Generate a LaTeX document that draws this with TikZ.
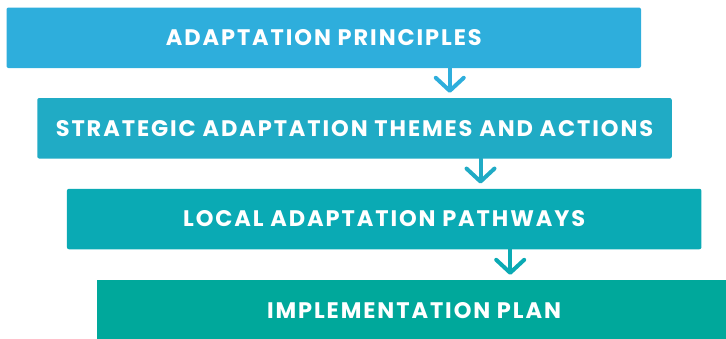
\documentclass[tikz,border=0pt]{standalone}
\usepackage{fontspec}
\setmainfont{Poppins}[LetterSpace=8.5]
\usetikzlibrary{arrows.meta}
\definecolor{stepone}{RGB}{46,174,220}
\definecolor{steptwo}{RGB}{32,171,197}
\definecolor{stepthree}{RGB}{10,170,180}
\definecolor{stepfour}{RGB}{0,168,155}

\begin{document}
\begin{tikzpicture}[x=1pt,y=-1pt,
    box/.style={fill=#1,rounded corners=2pt,minimum width=634.5pt,minimum height=60.5pt,
      inner sep=0pt,text=white,font=\bfseries\fontsize{22.5}{26}\selectfont},
    chev/.style={draw=#1,line width=4pt,line cap=round,
      -{Straight Barb[length=13pt,width=28pt,round]},shorten >=5pt}]
  \clip(0,0) rectangle (726,338);
  % the four steps
  \node[box=stepone] (b1) at (323.75,37.75) {ADAPTATION PRINCIPLES};
  \node[box=steptwo] (b2) at (354.5,128.25) {STRATEGIC ADAPTATION THEMES AND ACTIONS};
  \node[box=stepthree] (b3) at (384.2,219) {LOCAL ADAPTATION PATHWAYS};
  \node[box=stepfour,rounded corners=0pt,minimum height=62pt] (b4) at (414,311) {IMPLEMENTATION PLAN};
  % chevrons between them
  \draw[chev=stepone] ([xshift=126pt]b1.south) -- ([xshift=126pt]b1.south |- b2.north);
  \draw[chev=steptwo] ([xshift=126pt]b2.south) -- ([xshift=126pt]b2.south |- b3.north);
  \draw[chev=stepthree] ([xshift=126pt]b3.south) -- ([xshift=126pt]b3.south |- b4.north);
\end{tikzpicture}
\end{document}
